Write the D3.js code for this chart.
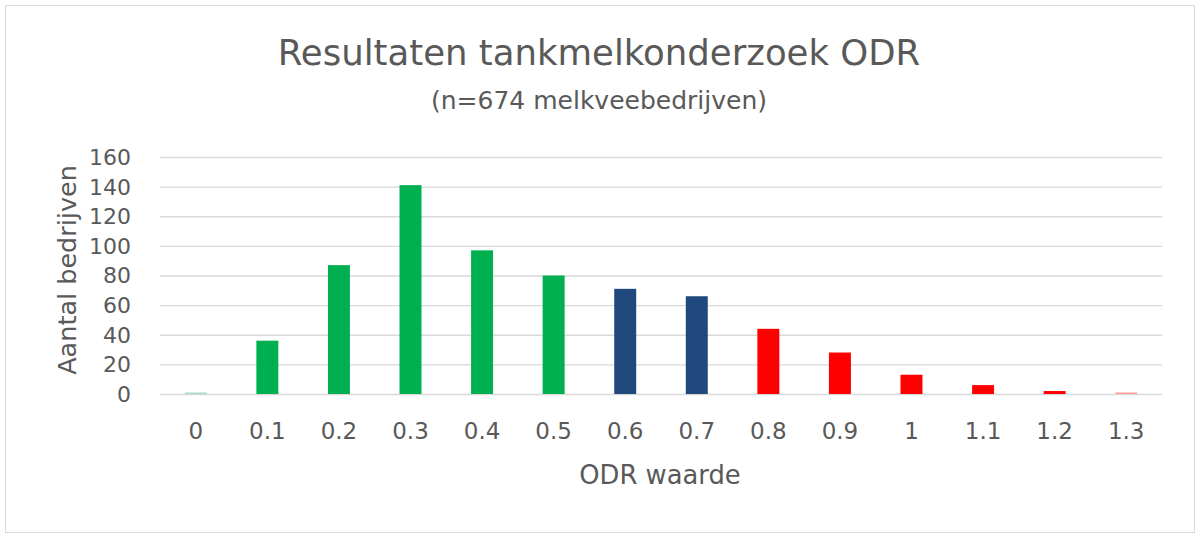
<html>
<head>
<style>
    body { margin: 0; background: #fff; }
    text { font-family: "DejaVu Sans", sans-serif; fill: #595959; }
</style>
</head>
<body>
<svg id="chart" width="1200" height="538"></svg>
<script src="https://cdn.jsdelivr.net/npm/d3@7"></script>
<script>
    let categories = ["0", "0.1", "0.2", "0.3", "0.4", "0.5", "0.6", "0.7", "0.8", "0.9", "1", "1.1", "1.2", "1.3"]
    let counts = [1, 36, 87, 141, 97, 80, 71, 66, 44, 28, 13, 6, 2, 1]
    let barColors = ["#a9dcc6", "#00b050", "#00b050", "#00b050", "#00b050", "#00b050", "#1f497d", "#1f497d",
                     "#ff0000", "#ff0000", "#ff0000", "#ff0000", "#ff0000", "#ff9c9c"]
    let yTicks = [0, 20, 40, 60, 80, 100, 120, 140, 160]

    let svg = d3.select("#chart")
    let plotLeft = 160, plotRight = 1162, plotTop = 157, plotBottom = 394

    svg.append("rect")
        .attr("x", 5.5).attr("y", 5.5).attr("width", 1189).attr("height", 527)
        .attr("fill", "#fff").attr("stroke", "#d9d9d9")

    let x = d3.scaleBand().domain(categories).range([plotLeft, plotRight]).paddingInner(0.693).paddingOuter(0.3465)
    let y = d3.scaleLinear().domain([0, 160]).range([plotBottom, plotTop])

    // gridlines
    svg.append("g").selectAll("line").data(yTicks).join("line")
        .attr("x1", plotLeft).attr("x2", plotRight)
        .attr("y1", d => y(d) + 0.5).attr("y2", d => y(d) + 0.5)
        .attr("stroke", "#d9d9d9").attr("stroke-width", 1.3)

    svg.append("g").selectAll("text").data(yTicks).join("text")
        .attr("x", 131).attr("y", d => y(d))
        .attr("dy", "0.36em").attr("text-anchor", "end")
        .style("font-size", "22px").text(d => d)

    svg.append("g").selectAll("rect").data(counts).join("rect")
        .attr("x", (d, i) => x(categories[i]))
        .attr("width", x.bandwidth())
        .attr("y", d => y(d))
        .attr("height", d => plotBottom - y(d))
        .attr("fill", (d, i) => barColors[i])

    svg.append("g").selectAll("text").data(categories).join("text")
        .attr("x", d => x(d) + x.bandwidth() / 2).attr("y", 439)
        .attr("text-anchor", "middle")
        .style("font-size", "23px").text(d => d)

    svg.append("text").attr("x", 599).attr("y", 65).attr("text-anchor", "middle")
        .style("font-size", "35.5px").text("Resultaten tankmelkonderzoek ODR")
    svg.append("text").attr("x", 599).attr("y", 109).attr("text-anchor", "middle")
        .style("font-size", "25px").text("(n=674 melkveebedrijven)")
    svg.append("text").attr("x", 660).attr("y", 484).attr("text-anchor", "middle")
        .style("font-size", "25.8px").text("ODR waarde")
    svg.append("text").attr("transform", "translate(76,270) rotate(-90)").attr("text-anchor", "middle")
        .style("font-size", "25.5px").text("Aantal bedrijven")
</script>
</body>
</html>
